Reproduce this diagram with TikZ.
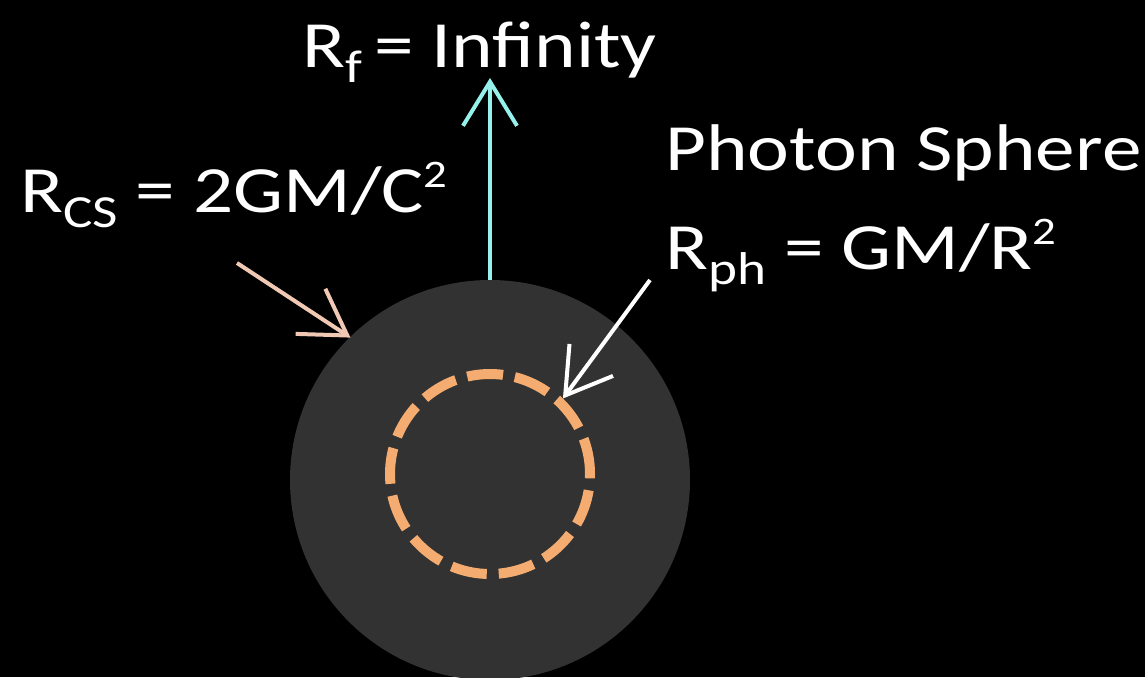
\documentclass[tikz,border=0pt]{standalone}
\usepackage{fontspec}
\setmainfont[FakeStretch=1.2]{Carlito}
\usetikzlibrary{arrows.meta}
\definecolor{holegray}{RGB}{50,50,50}
\definecolor{photonorange}{RGB}{244,172,112}
\definecolor{skycyan}{RGB}{150,240,235}
\definecolor{peach}{RGB}{240,200,180}
\newcommand{\lowsub}[1]{\raisebox{-15pt}{\fontsize{46}{46}\selectfont #1}}
\newcommand{\highsup}[1]{\raisebox{25pt}{\fontsize{39}{39}\selectfont #1}}
\tikzset{
    labeltext/.style={text=white, font=\fontsize{66}{80}\selectfont, inner sep=0pt, anchor=base west},
    barb/.style={line width=4pt, -{Straight Barb[length=44pt,width=54pt,line width=4pt]}}
}
\begin{document}
\begin{tikzpicture}[x=1pt,y=-1pt]

        \fill[black] (0,0) rectangle (1145,677);
        \useasboundingbox (0,0) rectangle (1145,677);

        \node[circle, fill=holegray, minimum size=400pt, inner sep=0pt] (horizon) at (490,480) {};
        \node[circle, draw=photonorange, line width=10pt, dash pattern=on 36pt off 12pt,
              minimum size=200pt, inner sep=0pt] (photon) at (490,474) {};

        \node[labeltext] (rf) at (302,67) {R\lowsub{f}\kern12pt= Infinity};
        \node[labeltext] (rcs) at (20,212) {R\lowsub{CS} = 2GM/C\highsup{2}};
        \node[labeltext] (sphere) at (665,170) {Photon Sphere};
        \node[labeltext] (rph) at (665,269) {R\lowsub{ph} = GM/R\highsup{2}};

        \coordinate (rftip) at (490,78);
        \coordinate (rcstail) at (237,263);
        \coordinate (rphtail) at (650,280);

        \draw[barb, skycyan] (horizon.north) -- (rftip);
        \draw[barb, peach] (rcstail) -- ([shift={(-3pt,-4pt)}]horizon.133);
        \draw[barb, white] (rphtail) -- (photon.46);

\end{tikzpicture}
\end{document}
